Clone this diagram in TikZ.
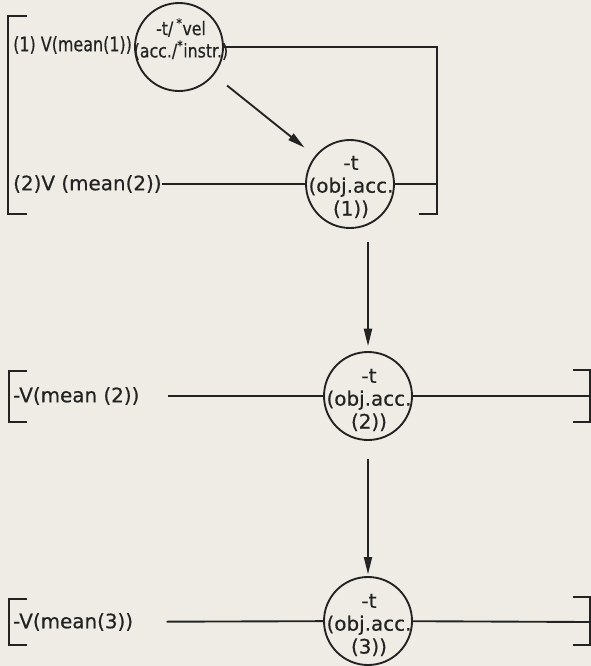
\documentclass[tikz,border=0pt]{standalone}
\usepackage{fontspec}
\setmainfont{DejaVu Sans}
\newfontfamily\inkfont{DejaVu Sans}[FakeBold=0.5]
\usetikzlibrary{arrows.meta, positioning}
\definecolor{paper}{RGB}{238,236,228}
\definecolor{ink}{RGB}{35,35,35}

\begin{document}
\begin{tikzpicture}[x=0.03cm, y=-0.03cm,
    morph/.style={circle, draw=ink, line width=1.6pt, minimum size=2.64cm, inner sep=0pt},
    ctext/.style={align=center, text=ink, inner sep=0pt, font=\inkfont\fontsize{17}{19.5}\selectfont},
    vlab/.style={anchor=west, inner sep=0pt, text=ink, font=\inkfont\fontsize{17}{19}\selectfont},
    brk/.style={draw=ink, line width=1.6pt},
    arr/.style={brk, -{Triangle[length=0.52cm, width=0.24cm]}},
]
    \fill[paper] (0,0) rectangle (591,666);
    \useasboundingbox (0,0) rectangle (591,666);

    % first block: (1) and (2)
    \node[morph] (c1) at (179,47) {};
    \node[ctext, font=\inkfont\fontsize{16}{19}\selectfont\addfontfeature{FakeStretch=0.84}] (t1) at (181,39) {-t/\,\textsuperscript{*}vel\\(acc./\textsuperscript{*}instr.)};
    \node[vlab, font=\inkfont\fontsize{17}{19}\selectfont\addfontfeature{FakeStretch=0.8}] (v1) at (13,45) {(1) V(mean(1))};

    \node[morph] (c2) at (350,184) {};
    \node[ctext] (t2) at (351,187) {-t\\(obj.acc.\\(1))};
    \node[vlab] (v2) at (13,184) {(2)V (mean(2))};

    \coordinate (r1) at (437,47);
    \coordinate (r1b) at (419,214);
    \coordinate (r2) at (437,184);

    \draw[brk] (27,16) -| (8,214) -- (27,214);
    \draw[brk] (c1) -- (r1) |- (r1b);
    \draw[brk] (v2) -- (c2);
    \draw[brk] (c2) -- (r2);
    \draw[arr, shorten <=0.5cm, shorten >=0.4cm] (c1) -- (c2);

    % second block
    \node[morph] (c3) at (368,396) {};
    \node[ctext] (t3) at (369,400) {-t\\(obj.acc.\\(2))};
    \node[vlab] (v3) at (13,396) {-V(mean (2))};
    \coordinate (r3) at (590,396);
    \coordinate (a1) at (368,242);

    \draw[brk] (27,371) -| (9,422) -- (27,422);
    \draw[brk] (573,370) -| (590,422) -- (573,422);
    \draw[brk, shorten <=0.85cm] (v3) -- (c3);
    \draw[brk] (c3) -- (r3);
    \draw[arr, shorten >=0.15cm] (a1) -- (c3);

    % third block
    \node[morph] (c4) at (368,621) {};
    \node[ctext] (t4) at (369,625) {-t\\(obj.acc.\\(3))};
    \node[vlab] (v4) at (13,622) {-V(mean(3))};
    \coordinate (r4) at (590,622);

    \draw[brk] (27,599) -| (9,645) -- (27,645);
    \draw[brk] (573,597) -| (590,645) -- (573,645);
    \draw[brk, shorten <=1.0cm] (v4) -- (c4);
    \draw[brk] (c4) -- (r4);
    \draw[arr, shorten <=0.55cm, shorten >=0.05cm] (c3) -- (c4);
\end{tikzpicture}
\end{document}
